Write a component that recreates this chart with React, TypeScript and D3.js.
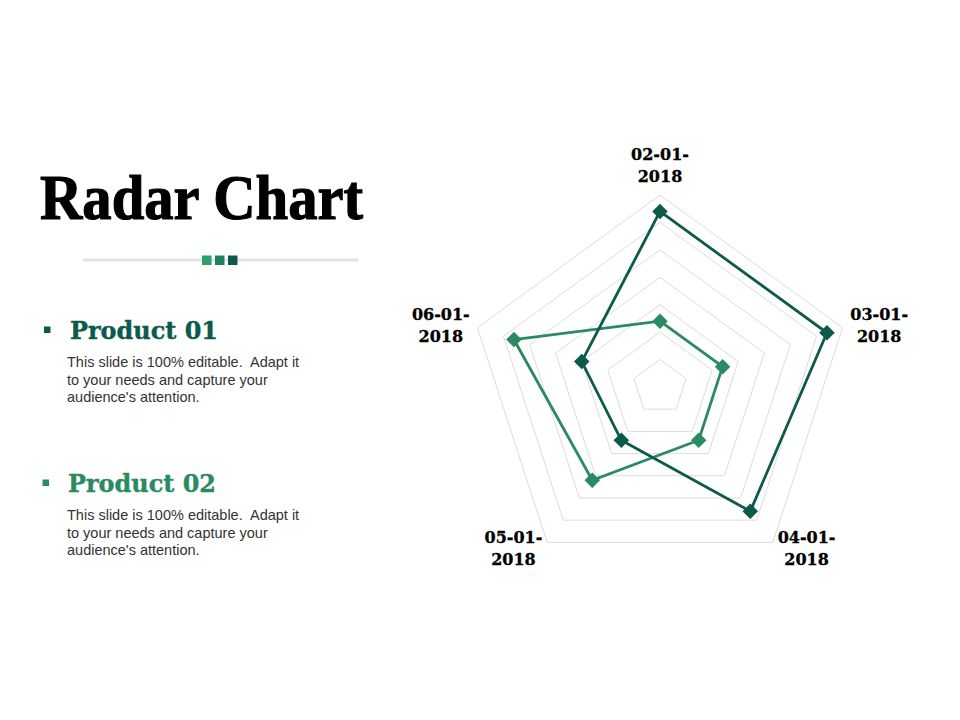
import React from 'react';
import * as d3 from 'd3';

// chart data
const categories = ['02-01-2018', '03-01-2018', '04-01-2018', '05-01-2018', '06-01-2018'];
const product01 = [64, 64, 56, 24, 30];
const product02 = [24, 24, 24, 42, 56];
const gridTicks = [10, 20, 30, 40, 50, 60, 70];

const products = [
  { name: 'Product 01', values: product01, color: '#0b5a4c' },
  { name: 'Product 02', values: product02, color: '#2a8a62' },
];
const blurb = ['This slide is 100% editable.  Adapt it', 'to your needs and capture your', "audience's attention."];

const width = 960;
const height = 720;
const cx = 660;
const cy = 387;
const outerR = 192;

const Radar: React.FC = () => {
  const r = d3.scaleLinear().domain([0, 70]).range([0, outerR]);
  const angle = d3.scalePoint<number>()
    .domain(d3.range(categories.length + 1))
    .range([0, 2 * Math.PI]);
  const ang = (i: number) => angle(i) as number;

  const ring = d3.lineRadial<number>()
    .angle((_, i) => ang(i))
    .radius(d => r(d))
    .curve(d3.curveLinearClosed);

  const marker = d3.symbol().type(d3.symbolSquare).size(121);

  return (
    <g transform={`translate(${cx},${cy})`}>
      {gridTicks.map(t => (
        <path key={t} d={ring(categories.map(() => t)) || ''} fill="none" stroke="#dcdcdc" strokeWidth={1} />
      ))}
      {/* product 02 first so product 01 sits on top */}
      {products.slice().reverse().map(p => (
        <g key={p.name}>
          <path d={ring(p.values) || ''} fill="none" stroke={p.color} strokeWidth={2.8} />
          {p.values.map((v, i) => {
            const a = ang(i);
            const x = Math.sin(a) * r(v);
            const y = -Math.cos(a) * r(v);
            return <path key={i} d={marker() || ''} fill={p.color} transform={`translate(${x},${y}) rotate(45)`} />;
          })}
        </g>
      ))}
      {categories.map((c, i) => {
        const a = ang(i);
        const s = Math.sin(a);
        let x = s * 200;
        let y = -Math.cos(a) * 200;
        if (Math.abs(s) < 0.1) y -= 22;
        else x += Math.sign(s) * 29;
        const parts = [c.slice(0, 6), c.slice(6)];
        return (
          <text key={c} x={x} y={y} textAnchor="middle" fontFamily="'DejaVu Serif', serif" fontWeight="bold" fontSize={16}
            fill="#000" stroke="#000" strokeWidth={0.3}>
            <tspan x={x} y={y - 11} dominantBaseline="central">{parts[0]}</tspan>
            <tspan x={x} y={y + 11} dominantBaseline="central">{parts[1]}</tspan>
          </text>
        );
      })}
    </g>
  );
};

const App: React.FC = () => {
  const squareColors = ['#2e9e6a', '#228060', '#0b5a4c'];
  const blocks = [
    { top: 339, bullet: 44 },
    { top: 492, bullet: 42.5 },
  ];
  return (
    <svg width={width} height={height} style={{ position: 'absolute', left: 0, top: 0, display: 'block' }}>
      <rect width={width} height={height} fill="white" />
      <text x={40} y={219} fontFamily="'Liberation Serif', serif" fontWeight="bold" fontSize={64} fill="#000"
        stroke="#000" strokeWidth={1.2} textLength={323} lengthAdjust="spacingAndGlyphs">Radar Chart</text>
      <line x1={83} x2={358} y1={260} y2={260} stroke="#e3e3e3" strokeWidth={3} />
      {squareColors.map((c, i) => (
        <rect key={c} x={202 + i * 13} y={255.5} width={9.5} height={9.5} fill={c} />
      ))}
      {products.map((p, k) => {
        const b = blocks[k];
        return (
          <g key={p.name}>
            <rect x={b.bullet} y={b.top - 12.5} width={6.5} height={6.5} fill={p.color} />
            <text x={k === 0 ? 70 : 68} y={b.top} fontFamily="'DejaVu Serif', serif" fontWeight="bold" fontSize={24}
              fill={p.color} stroke={p.color} strokeWidth={0.4} textLength={148} lengthAdjust="spacingAndGlyphs">{p.name}</text>
            {blurb.map((line, j) => (
              <text key={j} x={67} y={b.top + 28 + j * 17.5} fontFamily="'Liberation Sans', Arial, sans-serif" fontSize={14.5}
                fill="#333" style={{ whiteSpace: 'pre' }}>{line}</text>
            ))}
          </g>
        );
      })}
      <Radar />
    </svg>
  );
};

export default App;
